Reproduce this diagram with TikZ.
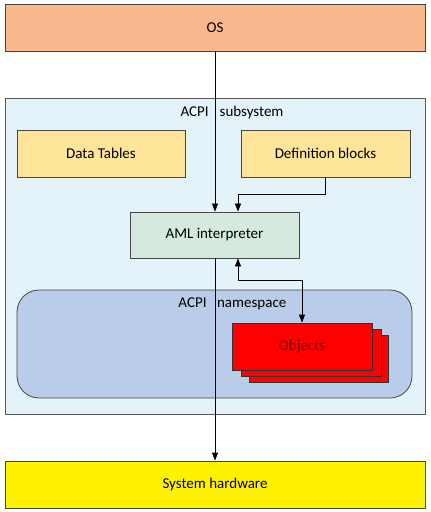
\documentclass[tikz,border=0pt]{standalone}
\usepackage{fontspec}
\setmainfont{Carlito}
\usetikzlibrary{arrows.meta,calc}
\definecolor{osfill}{RGB}{248,185,142}
\definecolor{subfill}{RGB}{228,243,250}
\definecolor{tabfill}{RGB}{255,229,153}
\definecolor{amlfill}{RGB}{213,233,222}
\definecolor{nsfill}{RGB}{185,204,234}
\definecolor{objtext}{RGB}{120,0,0}
\definecolor{edge}{RGB}{70,70,70}
\tikzset{
  box/.style={draw=edge, line width=0.8bp, inner sep=0pt, font=\fontsize{15bp}{18bp}\selectfont},
  lbl/.style={inner sep=0pt, font=\fontsize{15bp}{18bp}\selectfont},
  objbox/.style={box, fill=red, draw=black!80, minimum width=140bp, minimum height=47bp},
  arr/.style={-{Triangle[length=8bp,width=6bp]}, line width=0.8bp, black},
  arrboth/.style={{Triangle[length=8bp,width=6bp]}-{Triangle[length=8bp,width=6bp]}, line width=0.8bp, black}
}
\begin{document}
\begin{tikzpicture}[x=1bp,y=-1bp]
\useasboundingbox[fill=white] (0,0) rectangle (430,512);
% boxes
\node[box, fill=osfill, minimum width=420bp, minimum height=47bp] (os) at (215,27.5) {OS};
\node[box, fill=subfill, draw=gray!70!black, minimum width=420bp, minimum height=316bp] (sub) at (215,256) {};
\node[lbl] (sublbl) at (232,113) {ACPI\hspace{11bp}subsystem};
\node[box, fill=tabfill, minimum width=168bp, minimum height=47bp] (dt) at (101,153.5) {Data Tables};
\node[box, fill=tabfill, minimum width=169bp, minimum height=47bp] (def) at (325.5,153.5) {Definition blocks};
\node[box, fill=amlfill, minimum width=169bp, minimum height=46bp] (aml) at (214.5,235) {AML interpreter};
\node[box, fill=nsfill, rounded corners=22bp, minimum width=395bp, minimum height=108bp] (ns) at (214.5,344) {};
\node[lbl] (nslbl) at (232.4,303.5) {ACPI\hspace{10.5bp}namespace};
\node[objbox, minimum width=139bp] (obj3) at (318.5,358.5) {};
\node[objbox] (obj2) at (311,352.5) {};
\node[objbox, text=objtext] (obj) at (302,346.5) {Objects};
\node[box, fill=yellow, minimum width=420bp, minimum height=47bp] (hw) at (215,484.5) {System hardware};
% coordinates
\coordinate (amlin) at ($(aml.north)+(23.5,0)$);
\coordinate (amlout) at ($(aml.south)+(23.5,0)$);
\coordinate (defbend) at ($(def.south)+(0,17)$);
\coordinate (objbend) at ($(amlout)+(0,21.5)$);
% connectors
\draw[arr] (os.south) -- (os.south |- aml.north);
\draw[arr] (os.south |- aml.south) -- (hw.north);
\draw[arr] (def.south) -- (defbend) -| (amlin);
\draw[arrboth] (amlout) -- (objbend) -| (obj.north);
\end{tikzpicture}
\end{document}
